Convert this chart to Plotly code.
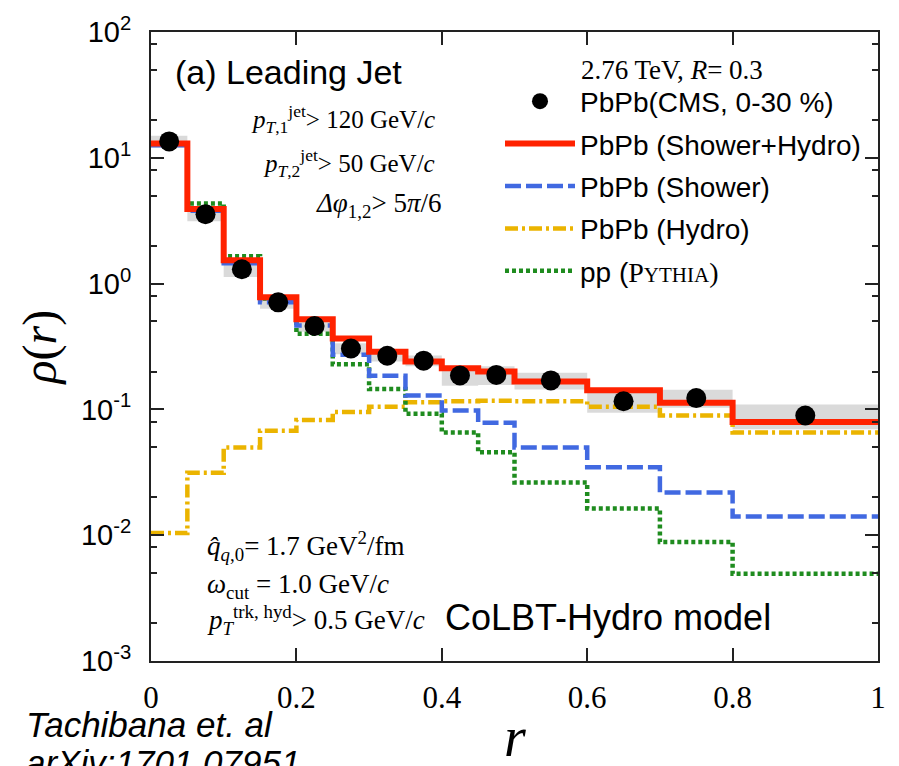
import plotly.graph_objects as go

# ---------------- data ----------------
edges = [0, 0.05, 0.1, 0.15, 0.2, 0.25, 0.3, 0.35, 0.4, 0.45, 0.5, 0.6, 0.7, 0.8, 1.0]
r_cms = [0.025, 0.075, 0.125, 0.175, 0.225, 0.275, 0.325, 0.375, 0.425, 0.475, 0.55, 0.65, 0.75, 0.9]
rho_cms = [13.5, 3.56, 1.30, 0.71, 0.46, 0.305, 0.267, 0.244, 0.186, 0.188, 0.170, 0.116, 0.123, 0.0895]
rho_cms_sys = [1.5, 0.43, 0.17, 0.08, 0.046, 0.03, 0.027, 0.024, 0.032, 0.032, 0.026, 0.022, 0.02, 0.02]

shower_hydro = [13.0, 3.92, 1.53, 0.78, 0.52, 0.366, 0.287, 0.24, 0.212, 0.20, 0.167, 0.142, 0.113, 0.0794]
shower = [12.6, 3.8, 1.45, 0.71, 0.465, 0.272, 0.185, 0.129, 0.098, 0.0785, 0.0499, 0.0347, 0.0218, 0.0141]
hydro = [0.0104, 0.0313, 0.0499, 0.0675, 0.0824, 0.0953, 0.105, 0.114, 0.116, 0.117, 0.116, 0.105, 0.0895, 0.0655]
pp = [12.8, 4.34, 1.65, 0.76, 0.40, 0.228, 0.145, 0.0923, 0.0655, 0.0456, 0.0262, 0.0163, 0.00883, 0.00494]

x_tickvals = [0, 0.2, 0.4, 0.6, 0.8, 1.0]
x_ticktext = ["0", "0.2", "0.4", "0.6", "0.8", "1"]
y_tickvals = [1e-3, 1e-2, 1e-1, 1, 10, 100]
y_ticktext = ["10<sup>-3</sup>", "10<sup>-2</sup>", "10<sup>-1</sup>", "10<sup>0</sup>",
              "10<sup>1</sup>", "10<sup>2</sup>"]
y_minor = [m * 10.0 ** e for e in range(-3, 2) for m in (2, 5, 8)]

# ---------------- figure ----------------
W, H = 899, 766
ML, MR, MT, MB = 151, 21, 25, 105
PW, PH = W - ML - MR, H - MT - MB


def px(x):
    return (x - ML) / PW


def py(y):
    return (H - MB - y) / PH


SANS = "Liberation Sans, Arial, sans-serif"
SERIF = "Liberation Serif, Times New Roman, serif"

fig = go.Figure()

# systematic error boxes (gray)
bx, by = [], []
for i in range(len(r_cms)):
    lo = rho_cms[i] - rho_cms_sys[i]
    hi = rho_cms[i] + rho_cms_sys[i]
    x0, x1 = edges[i], edges[i + 1]
    bx += [x0, x1, x1, x0, x0, None]
    by += [lo, lo, hi, hi, lo, None]
fig.add_trace(go.Scatter(x=bx, y=by, fill="toself", fillcolor="rgba(205,205,205,0.75)",
                         line=dict(width=0), mode="lines", showlegend=False, hoverinfo="skip"))


def step(vals):
    return vals + [vals[-1]]


fig.add_trace(go.Scatter(x=edges, y=step(hydro), mode="lines", line_shape="hv",
                         line=dict(color="#ebb400", width=4.5, dash="13px,4px,3px,4px"),
                         name="PbPb (Hydro)", legendrank=4, legendgroup="d"))
fig.add_trace(go.Scatter(x=edges, y=step(pp), mode="lines", line_shape="hv",
                         line=dict(color="#1f8c1f", width=4.5, dash="4px,3px"),
                         name="pp (<span style='font-family:Liberation Serif'>P<span style='font-size:21px'>YTHIA</span>)</span>",
                         legendrank=5, legendgroup="e"))
fig.add_trace(go.Scatter(x=edges, y=step(shower), mode="lines", line_shape="hv",
                         line=dict(color="#4169e1", width=4.5, dash="16px,5px"),
                         name="PbPb (Shower)", legendrank=3, legendgroup="c"))
fig.add_trace(go.Scatter(x=edges, y=step(shower_hydro), mode="lines", line_shape="hv",
                         line=dict(color="#ff2200", width=6),
                         name="PbPb (Shower+Hydro)", legendrank=2, legendgroup="b"))
fig.add_trace(go.Scatter(x=r_cms, y=rho_cms, mode="markers",
                         marker=dict(color="black", size=20),
                         name="PbPb(CMS, 0-30 %)", legendrank=1, legendgroup="a"))

axis_common = dict(showline=True, linecolor="#222", linewidth=2, mirror="ticks",
                   ticks="inside", tickcolor="#222", tickwidth=2, showgrid=False, zeroline=False)

fig.update_xaxes(range=[0, 1], tickmode="array", tickvals=x_tickvals, ticktext=x_ticktext,
                 ticklen=13, ticklabelstandoff=8,
                 tickfont=dict(family=SERIF, size=31, color="black"), **axis_common)
fig.update_yaxes(type="log", range=[-3, 2], tickmode="array", tickvals=y_tickvals,
                 ticktext=y_ticktext, ticklen=13, ticklabelstandoff=12,
                 tickfont=dict(family=SANS, size=29, color="black"),
                 minor=dict(tickmode="array", tickvals=y_minor, ticks="inside", ticklen=6,
                            tickwidth=2, tickcolor="#222"),
                 **axis_common)

ann = []


def add(text, x, y, size, family, xanchor="left", angle=0):
    ann.append(dict(text=text, x=px(x), y=py(y), xref="paper", yref="paper",
                    xanchor=xanchor, yanchor="middle", showarrow=False, textangle=angle,
                    font=dict(family=family, size=size, color="black")))


add("(a) Leading Jet", 173, 65, 34, SANS)
add("<i>p</i><sub><i>T</i>,1</sub><sup>jet</sup>> 120 GeV/<i>c</i>", 437, 113, 25, SERIF, "right")
add("<i>p</i><sub><i>T</i>,2</sub><sup>jet</sup>> 50 GeV/<i>c</i>", 437, 157, 25, SERIF, "right")
add("<i>Δφ</i><sub>1,2</sub>> 5<i>π</i>/6", 443, 200, 27, SERIF, "right")
add("2.76 TeV, <i>R</i>= 0.3", 579, 63, 27, SERIF)
add("<i>q̂</i><sub><i>q</i>,0</sub>= 1.7 GeV<sup>2</sup>/fm", 205, 545, 27, SERIF)
add("<i>ω</i><sub>cut</sub> = 1.0 GeV/<i>c</i>", 205, 585, 27, SERIF)
add("<i>p</i><sub><i>T</i></sub><sup>trk, hyd</sup>> 0.5 GeV/<i>c</i>", 205, 620, 27, SERIF)
add("CoLBT-Hydro model", 443, 617, 36, SANS)
add("<i>Tachibana et. al</i>", 24, 725, 35, SANS)
add("<i>arXiv:1701.07951</i>", 24, 764, 35, SANS)
add("<i>ρ</i>(<i>r</i>)", 40, 344, 48, SERIF, "center", -90)
add("<i>r</i>", 515, 738, 56, SERIF, "center")

fig.update_layout(
    width=W, height=H,
    margin=dict(l=ML, r=MR, t=MT, b=MB),
    paper_bgcolor="white", plot_bgcolor="white",
    annotations=ann,
    legend=dict(x=px(500), y=py(70), xanchor="left", yanchor="top",
                bgcolor="rgba(0,0,0,0)", font=dict(family=SANS, size=28, color="black"),
                traceorder="grouped", tracegroupgap=3, itemwidth=70),
)

fig.write_html("out.html")
